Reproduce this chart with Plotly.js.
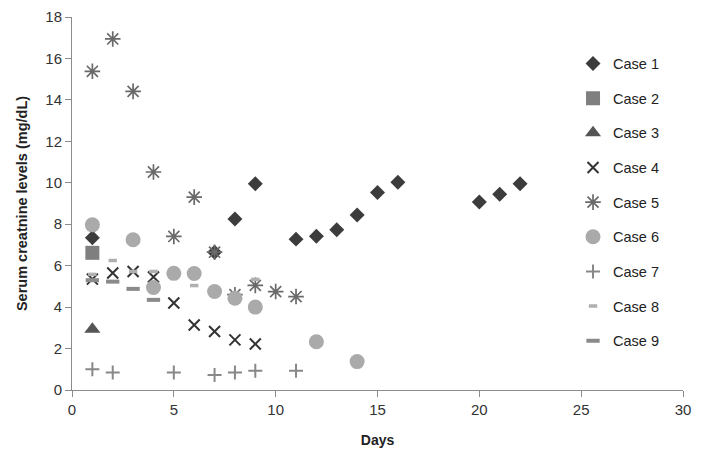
<!DOCTYPE html>
<html>
<head>
<meta charset="utf-8">
<script src="https://cdn.plot.ly/plotly-3.0.1.min.js"></script>
<style>html,body{margin:0;padding:0;background:#fff;}#chart{width:707px;height:466px;}</style>
</head>
<body>
<div id="chart"></div>
<script>
// Data
const case1Days = [1, 7, 8, 9, 11, 12, 13, 14, 15, 16, 20, 21, 22];
const case1Vals = [7.35, 6.65, 8.25, 9.95, 7.28, 7.42, 7.73, 8.45, 9.53, 10.03, 9.07, 9.45, 9.95];
const case2Days = [1];
const case2Vals = [6.62];
const case3Days = [1];
const case3Vals = [2.93];
const case4Days = [1, 2, 3, 4, 5, 6, 7, 8, 9];
const case4Vals = [5.35, 5.65, 5.72, 5.45, 4.2, 3.14, 2.82, 2.42, 2.22];
const case5Days = [1, 2, 3, 4, 5, 6, 7, 8, 9, 10, 11];
const case5Vals = [15.38, 16.94, 14.41, 10.52, 7.41, 9.31, 6.65, 4.6, 5.05, 4.75, 4.51];
const case6Days = [1, 3, 4, 5, 6, 7, 8, 9, 12, 14];
const case6Vals = [7.97, 7.25, 4.95, 5.63, 5.62, 4.75, 4.43, 4.0, 2.33, 1.37];
const case7Days = [1, 2, 5, 7, 8, 9, 11];
const case7Vals = [1.0, 0.84, 0.84, 0.72, 0.84, 0.93, 0.93];
const case8Days = [1, 2, 3, 4, 6, 9];
const case8Vals = [5.58, 6.25, 5.72, 5.72, 5.04, 5.34];
const case9Days = [1, 2, 3, 4];
const case9Vals = [5.3, 5.23, 4.88, 4.35];
const caseNames = ["Case 1", "Case 2", "Case 3", "Case 4", "Case 5", "Case 6", "Case 7", "Case 8", "Case 9"];

const styles = [
  {symbol: "diamond", size: 11.5, color: "#3c3c3c"},
  {symbol: "square", size: 14, color: "#7f7f7f"},
  {symbol: "triangle-up", size: 14, color: "#555555"},
  {symbol: "x-thin-open", size: 11, color: "#333333", line: {width: 2, color: "#333333"}},
  {symbol: "asterisk-open", size: 13, color: "#6a6a6a", line: {width: 1.7, color: "#6a6a6a"}},
  {symbol: "circle", size: 15, color: "#aaaaaa"},
  {symbol: "cross-thin-open", size: 10, color: "#888888", line: {width: 2, color: "#888888"}},
  {symbol: "line-ew-open", size: 6, color: "#b0b0b0", line: {width: 3.5, color: "#b0b0b0"}},
  {symbol: "line-ew-open", size: 9.5, color: "#8a8a8a", line: {width: 4, color: "#8a8a8a"}}
];
const xs = [case1Days, case2Days, case3Days, case4Days, case5Days, case6Days, case7Days, case8Days, case9Days];
const ys = [case1Vals, case2Vals, case3Vals, case4Vals, case5Vals, case6Vals, case7Vals, case8Vals, case9Vals];

const traces = caseNames.map((name, i) => {
  const s = styles[i];
  const marker = {symbol: s.symbol, size: s.size, color: s.color};
  if (s.line) marker.line = s.line; else marker.line = {width: 0};
  return {
    x: xs[i], y: ys[i], name: name, type: "scatter", mode: "markers",
    marker: marker, legendgroup: "g" + i, cliponaxis: false
  };
});

const font = "Liberation Sans, Arial, sans-serif";
const layout = {
  width: 707, height: 466,
  margin: {l: 72, r: 24, t: 17, b: 76},
  paper_bgcolor: "#ffffff", plot_bgcolor: "#ffffff",
  font: {family: font, size: 14, color: "#333333"},
  showlegend: true,
  legend: {
    x: 0.82, xanchor: "left", y: 0.918, yanchor: "top",
    traceorder: "grouped", tracegroupgap: 12.8,
    font: {family: font, size: 14.5, color: "#222222"},
    itemwidth: 30, bgcolor: "rgba(0,0,0,0)"
  },
  xaxis: {
    range: [0, 30], tickvals: [0, 5, 10, 15, 20, 25, 30],
    showgrid: false, zeroline: false, showline: true, linecolor: "#8c8c8c", linewidth: 1,
    ticks: "outside", ticklen: 6, tickcolor: "#8c8c8c",
    tickfont: {family: font, size: 15, color: "#333333"},
    title: {text: "<b>Days</b>", font: {family: font, size: 14, color: "#222222"}, standoff: 18}
  },
  yaxis: {
    range: [0, 18], tickvals: [0, 2, 4, 6, 8, 10, 12, 14, 16, 18],
    showgrid: false, zeroline: false, showline: true, linecolor: "#8c8c8c", linewidth: 1,
    ticks: "outside", ticklen: 6, tickcolor: "#8c8c8c",
    tickfont: {family: font, size: 15, color: "#333333"},
    title: {text: "<b>Serum creatnine levels (mg/dL)</b>", font: {family: font, size: 14.5, color: "#222222"}, standoff: 14}
  }
};

Plotly.newPlot("chart", traces, layout, {displayModeBar: false, staticPlot: true});
</script>
</body>
</html>
